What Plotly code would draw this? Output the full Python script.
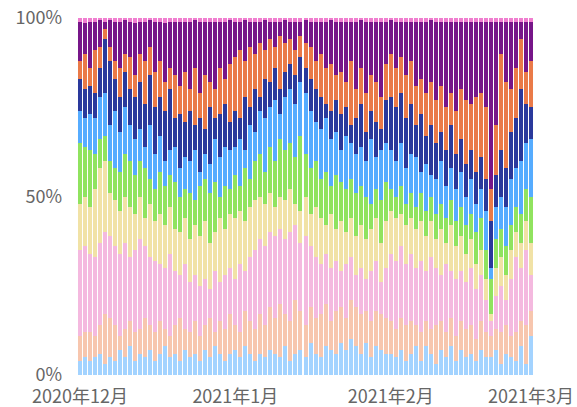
import pandas as pd
import plotly.graph_objects as go

dates = pd.date_range("2020-12-01", "2021-03-01", freq="D")

tick_vals = ["2020-12-01", "2021-01-01", "2021-02-01", "2021-03-01"]
tick_text = ["2020年12月", "2021年1月", "2021年2月", "2021年3月"]

s_lightblue = [4,5,4,5,6,3,5,4,7,5,8,4,6,5,7,4,6,8,5,6,4,7,5,6,4,7,5,8,6,4,6,
               7,5,8,6,4,6,5,7,6,5,8,4,6,7,5,9,6,5,8,7,6,9,7,10,8,6,9,5,8,7,6,
               6,5,7,4,6,8,4,8,6,3,7,5,8,4,7,5,6,4,7,5,5,7,3,6,5,4,8,3,11]
s_peach = [7,7,8,6,8,14,11,10,4,8,7,8,7,11,7,8,9,5,6,8,12,6,7,9,7,7,11,4,9,9,11,
           7,7,10,9,9,11,9,12,10,15,9,11,15,11,9,10,10,12,12,8,12,10,9,11,11,11,9,10,10,10,10,
           9,8,9,10,9,6,8,7,7,11,8,7,8,7,8,8,8,6,8,7,6,6,9,8,6,8,7,11,7]
s_pink = [24,24,22,22,23,23,23,22,23,24,18,23,25,20,19,20,16,17,23,15,12,18,14,13,14,13,8,17,11,15,13,
          13,19,11,18,22,21,22,21,23,21,21,25,21,19,25,17,17,14,14,15,14,10,15,12,9,13,9,14,14,9,14,
          19,19,20,17,19,16,20,14,20,16,13,19,13,16,14,13,16,14,13,9,4,9,13,7,16,21,15,21,10]
s_wheat = [13,14,13,19,21,20,12,13,12,13,14,10,12,8,15,11,14,12,13,12,12,13,12,14,14,16,13,11,18,13,15,
           17,15,14,14,14,12,12,11,8,9,11,12,6,9,11,9,14,13,8,15,9,14,9,11,11,12,11,12,12,11,13,
           12,12,9,11,10,11,11,10,10,8,13,6,13,9,10,8,8,7,7,6,2,8,8,7,8,7,7,8,9]
s_green = [17,14,16,10,8,7,9,9,11,12,13,11,10,14,7,9,12,11,9,13,10,8,13,7,14,12,14,14,6,12,7,
           12,7,15,8,11,12,9,13,13,16,14,13,13,21,12,13,13,11,15,8,15,11,12,11,12,11,12,7,8,12,11,
           6,6,8,6,7,6,8,7,7,7,7,7,7,7,8,8,7,9,9,8,10,8,8,8,7,7,8,9,13]
s_skyblue = [9,8,10,10,12,12,10,16,11,13,10,10,9,6,15,10,10,7,7,10,8,9,9,14,4,7,8,12,11,11,11,
             8,13,5,15,8,12,15,11,17,7,15,15,15,15,17,16,11,14,15,13,12,9,15,10,11,11,10,18,9,14,11,
             11,10,12,10,11,14,6,13,6,10,12,9,9,9,10,8,10,8,8,11,3,9,9,11,13,11,15,13,16]
s_darkblue = [9,8,8,7,8,15,18,9,10,10,10,12,13,12,14,13,11,14,17,8,15,10,14,7,15,7,16,6,12,12,8,
              10,6,15,5,12,4,11,7,9,7,7,7,8,7,7,9,9,9,4,8,9,10,8,5,10,12,8,8,10,6,12,
              15,15,14,14,14,9,16,8,14,10,8,10,12,10,9,9,8,9,9,9,13,9,13,11,13,14,20,11,9]
s_orange = [5,10,5,12,6,3,4,5,8,5,9,6,8,12,8,10,10,8,6,12,8,14,6,16,7,15,7,8,13,7,16,
            15,19,10,17,10,15,8,12,6,15,8,7,7,6,7,9,8,12,10,13,7,12,7,18,8,10,11,10,11,9,10,
            12,11,10,12,12,11,10,12,12,12,13,12,9,12,14,18,13,21,18,20,9,14,27,24,12,14,14,9,13]
s_purple = [11,8.5,13,8,7.5,2,7.5,11,13,9.5,10,14.5,9,11,7.5,14,11,16.5,13,15,18,14,19,13.5,20,15,17,19,13,16,12.5,
            10,8,11.5,7,9,6,8.5,5,7,4,6.5,5,8,4,6.5,7,11,9,13,12.5,15,14,17,11,19,13.5,20,15,17,21,12,
            9.5,13,10,15,11,18,16,20,17.5,22,18,24,20,25,19,22,23,21,20,24,47,29,9,17,19,13,5,14,11]
s_magenta = [1,1.5,1,1,0.5,1,0.5,1,1,0.5,1,1.5,1,1,0.5,1,1,1.5,1,1,1,1,1,0.5,1,1,1,1,1,1,0.5,
             1,1,0.5,1,1,1,0.5,1,1,1,0.5,1,1,1,0.5,1,1,1,1,0.5,1,1,1,1,1,0.5,1,1,1,1,1,
             0.5,1,1,1,1,1,1,1,0.5,1,1,1,1,1,1,1,1,1,1,1,1,1,1,1,1,1,1,1,1]

series = [
    ("s1", s_lightblue, "#a3d3ff"),
    ("s2", s_peach, "#f7c6ae"),
    ("s3", s_pink, "#f4b9df"),
    ("s4", s_wheat, "#f1e2a6"),
    ("s5", s_green, "#90e35f"),
    ("s6", s_skyblue, "#56acff"),
    ("s7", s_darkblue, "#2a399c"),
    ("s8", s_orange, "#ea7a48"),
    ("s9", s_purple, "#771689"),
    ("s10", s_magenta, "#f07ed0"),
]

fig = go.Figure()
for name, vals, color in series:
    fig.add_trace(go.Bar(x=dates, y=vals, name=name, marker=dict(color=color, line=dict(width=0)),
                         hoverinfo="skip"))

fnt = dict(family="Noto Sans CJK SC, Noto Sans, sans-serif", size=18, color="#666666")
fig.update_layout(
    barmode="stack", barnorm="percent", bargap=0.2,
    width=577, height=407, margin=dict(l=78, r=44, t=18, b=32, autoexpand=False),
    paper_bgcolor="white", plot_bgcolor="white", showlegend=False,
    font=fnt,
)
fig.update_xaxes(type="date", range=["2020-11-30 14:24", "2021-03-01 09:36"],
                 tickvals=tick_vals, ticktext=tick_text, showgrid=False, zeroline=False,
                 showline=False, ticks="", tickfont=fnt, automargin=False,
                 ticklabelstandoff=9, ticklabeloverflow="allow")
fig.update_yaxes(range=[0, 100], tickvals=[0, 50, 100], ticktext=["0%", "50%", "100%"],
                 showgrid=False, zeroline=False, showline=False, ticks="", tickfont=fnt,
                 automargin=False, ticklabelstandoff=15, ticklabeloverflow="allow")
fig.write_html("out.html", config={"displayModeBar": False},
               post_script="document.body.style.margin='0';document.body.style.overflow='hidden';")
